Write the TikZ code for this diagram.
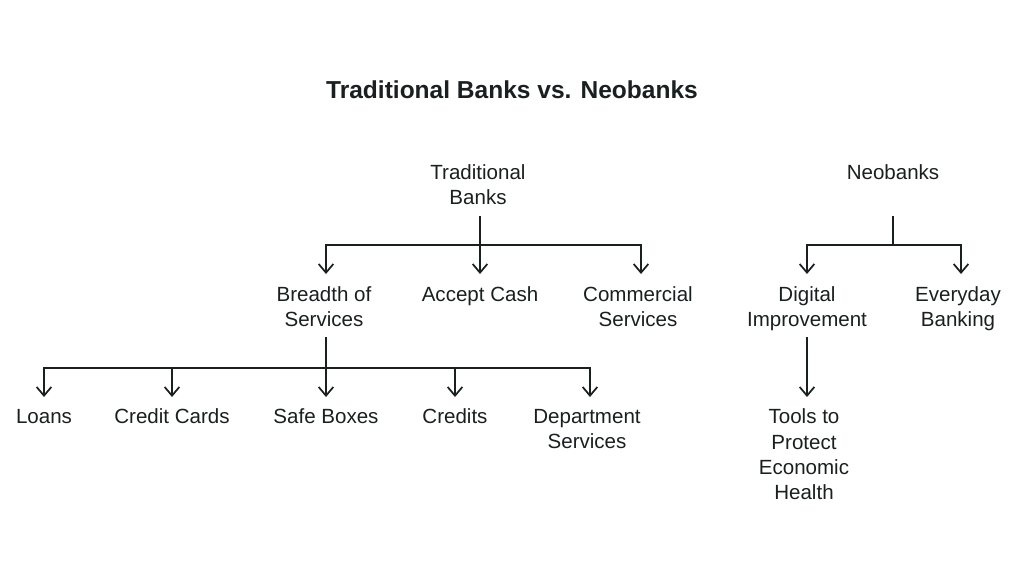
\documentclass[tikz,border=0pt]{standalone}
\usepackage{fontspec}
\setmainfont{Liberation Sans}
\usetikzlibrary{arrows.meta}
\definecolor{ink}{HTML}{1A1F1F}
\tikzset{
  lbl/.style={text=ink,font=\fontsize{15.4}{18.9}\selectfont,align=center,inner sep=0pt,anchor=center,
    execute at begin node=\strut,execute at end node=\strut},
  ttl/.style={text=ink,font=\bfseries\fontsize{18.4}{21}\selectfont,align=center,inner sep=0pt},
  conn/.style={draw=ink,line width=1.5pt},
  arr/.style={conn,-{Straight Barb[length=6.5pt,width=11pt,line width=1.3pt]}}
}
\begin{document}
\begin{tikzpicture}[x=0.75pt,y=-0.75pt]
\useasboundingbox[fill=white] (0,0) rectangle (1024,576);
\node[ttl] (title) at (512,90) {Traditional Banks vs. Neobanks};
\node[lbl] (tb) at (478,188.5) {Traditional\\Banks};
\node[lbl] (neo) at (893,174) {Neobanks};
\node[lbl] (bs) at (324,310) {Breadth of\\Services};
\node[lbl] (ac) at (480,296) {Accept Cash};
\node[lbl] (cs) at (638,310) {Commercial\\Services};
\node[lbl] (di) at (807,310) {Digital\\Improvement};
\node[lbl] (eb) at (958,310) {Everyday\\Banking};
\node[lbl] (lo) at (44,418) {Loans};
\node[lbl] (cc) at (172,418) {Credit Cards};
\node[lbl] (sb) at (326,418) {Safe Boxes};
\node[lbl] (cr) at (455,418) {Credits};
\node[lbl] (ds) at (587,433) {Department\\Services};
\node[lbl] (tp) at (804,458) {Tools to\\Protect\\Economic\\Health};
\coordinate (j1) at (480,245);
\coordinate (j2) at (326,368);
\coordinate (j3) at (893,245);
\coordinate (t1) at (480,216);
\coordinate (t2) at (326,337);
\coordinate (t3) at (893,216);
\coordinate (t4) at (807,337);
\draw[conn] (t1) -- (j1);
\draw[conn] (t2) -- (j2);
\draw[conn] (t3) -- (j3);
\draw[arr] (j1) -| (326,274);
\draw[arr] (j1) -- (480,274);
\draw[arr] (j1) -| (641,274);
\draw[arr] (j2) -| (44,397);
\draw[arr] (j2) -| (172,397);
\draw[arr] (j2) -- (326,397);
\draw[arr] (j2) -| (455,397);
\draw[arr] (j2) -| (590,397);
\draw[arr] (j3) -| (807,274);
\draw[arr] (j3) -| (961,274);
\draw[arr] (t4) -- (807,397);
\end{tikzpicture}
\end{document}
